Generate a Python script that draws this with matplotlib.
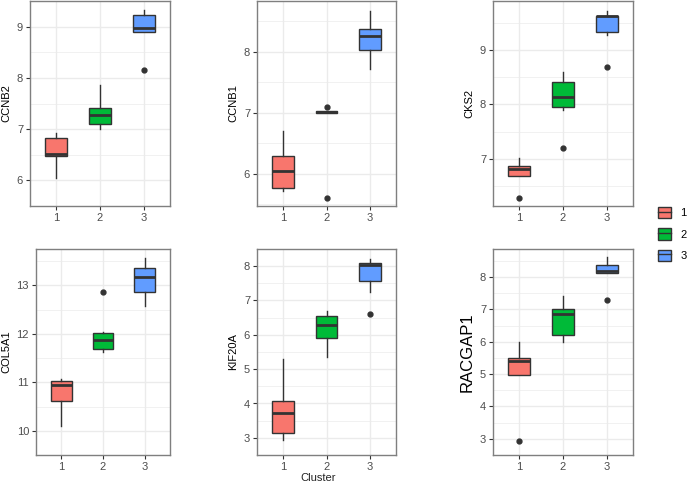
import matplotlib
matplotlib.use("Agg")
import matplotlib.pyplot as plt
from matplotlib.patches import Patch
from matplotlib.lines import Line2D

plt.rcParams['font.family'] = ['Liberation Sans', 'DejaVu Sans']

clusters = ["1", "2", "3"]
colors = ["#F8766D", "#00BA38", "#619CFF"]

genes = ["CCNB2", "CCNB1", "CKS2", "COL5A1", "KIF20A", "RACGAP1"]

# per gene, per cluster: (whislo, q1, med, q3, whishi, outliers)
ccnb2 = [(6.05, 6.47, 6.52, 6.82, 6.93, []),
         (7.00, 7.10, 7.28, 7.42, 7.86, []),
         (8.90, 8.90, 8.97, 9.22, 9.32, [8.16])]
ccnb1 = [(5.71, 5.76, 6.04, 6.29, 6.70, []),
         (7.00, 7.00, 7.01, 7.02, 7.02, [7.09, 5.60]),
         (7.71, 8.02, 8.25, 8.37, 8.66, [])]
cks2 = [(6.69, 6.69, 6.81, 6.86, 7.02, [6.28]),
        (7.90, 7.95, 8.13, 8.41, 8.59, [7.19]),
        (9.28, 9.33, 9.62, 9.63, 9.72, [8.68])]
col5a1 = [(10.10, 10.62, 10.94, 11.02, 11.06, []),
          (11.63, 11.69, 11.87, 12.02, 12.04, [12.87]),
          (12.57, 12.87, 13.17, 13.36, 13.57, [])]
kif20a = [(2.95, 3.15, 3.72, 4.06, 5.31, []),
          (5.36, 5.90, 6.28, 6.54, 6.69, []),
          (7.26, 7.58, 8.04, 8.10, 8.21, [6.60])]
racgap1 = [(4.98, 4.98, 5.40, 5.49, 5.99, [2.94]),
           (6.00, 6.22, 6.85, 7.02, 7.43, []),
           (8.14, 8.14, 8.18, 8.37, 8.61, [7.28])]

all_stats = [ccnb2, ccnb1, cks2, col5a1, kif20a, racgap1]
ylims = [(5.9, 9.49), (5.47, 8.83), (6.13, 9.9),
         (9.94, 13.75), (2.72, 8.49), (2.68, 8.87)]
yticks = [[6, 7, 8, 9], [6, 7, 8], [7, 8, 9],
          [10, 11, 12, 13], [3, 4, 5, 6, 7, 8], [3, 4, 5, 6, 7, 8]]

W, H = 688, 483
fig = plt.figure(figsize=(W / 100, H / 100), dpi=100)

# axes boxes in pixels: left, top, right, bottom
boxes = [(30, 1, 170, 206), (257, 1, 396, 206), (493, 1, 633, 206),
         (36, 249, 170, 455), (257, 249, 396, 455), (493, 249, 633, 455)]

grid_c = "#EBEBEB"
edge_c = "#333333"

for i, gene in enumerate(genes):
    l, t, r, b = boxes[i]
    ax = fig.add_axes([l / W, 1 - b / H, (r - l) / W, (b - t) / H])
    stats = []
    for j, s in enumerate(all_stats[i]):
        stats.append(dict(whislo=s[0], q1=s[1], med=s[2], q3=s[3],
                          whishi=s[4], fliers=s[5], label=clusters[j]))
    bp = ax.bxp(stats, positions=[1, 2, 3], widths=0.5, patch_artist=True,
                showcaps=False,
                boxprops=dict(edgecolor=edge_c, linewidth=1.0),
                medianprops=dict(color=edge_c, linewidth=2.0),
                whiskerprops=dict(color=edge_c, linewidth=1.0),
                flierprops=dict(marker="o", markerfacecolor=edge_c,
                                markeredgecolor=edge_c, markersize=3.5))
    for p, c in zip(bp["boxes"], colors):
        p.set_facecolor(c)
    ax.set_xlim(0.4, 3.6)
    ax.set_ylim(*ylims[i])
    ax.set_yticks(yticks[i])
    ax.set_yticks([v + 0.5 for v in yticks[i]] + [yticks[i][0] - 0.5], minor=True)
    ax.set_xticks([1, 2, 3])
    ax.set_xticklabels(clusters)
    ax.grid(True, which="major", color=grid_c, linewidth=1.0)
    ax.grid(True, which="minor", axis="y", color=grid_c, linewidth=0.5)
    ax.set_axisbelow(True)
    for sp in ax.spines.values():
        sp.set_color("#7F7F7F")
        sp.set_linewidth(1.0)
    ax.tick_params(which="major", length=3, width=0.8, color="#333333",
                   labelsize=8, labelcolor="#4D4D4D", pad=2)
    ax.tick_params(which="minor", length=0)
    if gene == "RACGAP1":
        ax.set_ylabel(gene, fontsize=12, color="black")
    else:
        ax.set_ylabel(gene, fontsize=8, color="black")
    if gene == "KIF20A":
        ax.set_xlabel("Cluster", fontsize=8, color="#222222")
        ax.xaxis.set_label_coords(0.44, -0.088)

handles = []
for c in colors:
    handles.append((Patch(facecolor=c, edgecolor=edge_c, linewidth=1.0),
                    Line2D([], [], color=edge_c, linewidth=1.0)))
fig.legend(handles, clusters, loc="center left",
           bbox_to_anchor=(648 / W, 1 - 234 / H), frameon=False,
           fontsize=8, handlelength=1.2, handleheight=1.2,
           labelspacing=0.9, handletextpad=0.8)

fig.savefig("out.png", dpi=100)
